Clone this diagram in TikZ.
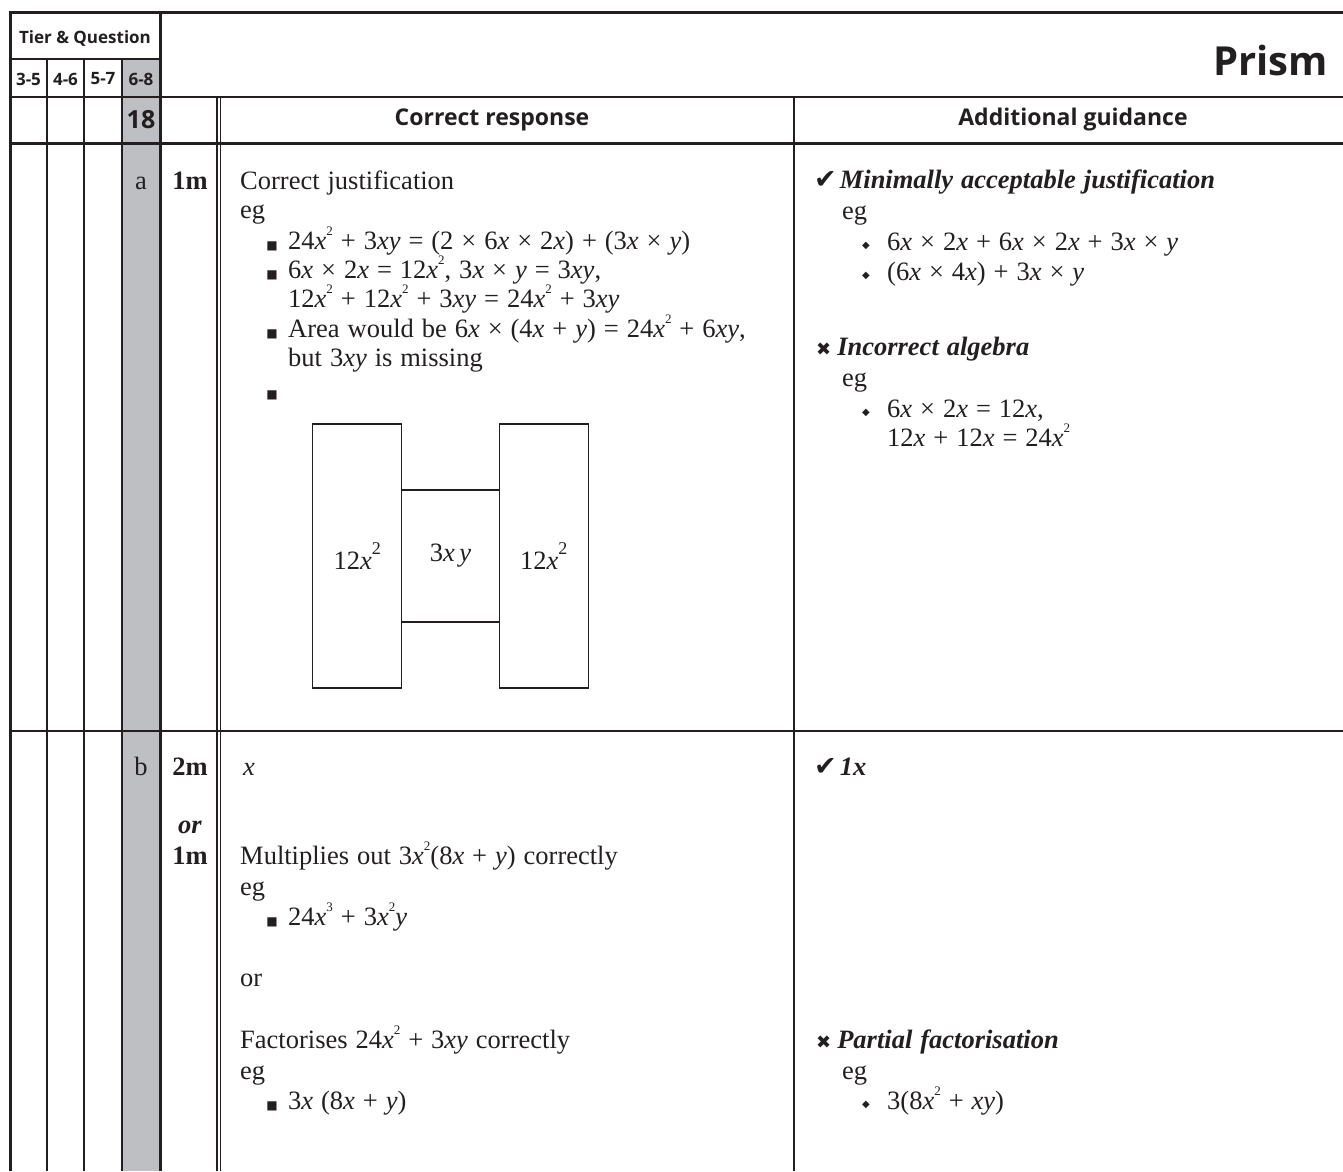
\documentclass[tikz,border=0pt]{standalone}
\usepackage{amsmath}
\usepackage{amssymb}
\usepackage{fontspec}
\usepackage{xcolor}
\setmainfont{Liberation Serif}
\newfontfamily\headfont{Open Sans}
\newfontfamily\symfont{DejaVu Sans}
\definecolor{rulecol}{RGB}{35,31,32}
\definecolor{tiergray}{RGB}{190,191,195}
\newcommand{\sqbul}{{\symfont\fontsize{12}{12}\selectfont ■}}
\newcommand{\dmbul}{\raisebox{2pt}{\symfont\fontsize{10}{10}\selectfont ◆}}
\newcommand{\tickmark}{{\symfont\fontsize{27}{27}\selectfont ✔}}
\newcommand{\crossmark}{{\symfont\fontsize{18}{18}\selectfont ✖}}
\newcommand{\iv}[1]{\textit{#1}}
\newcommand{\pw}[1]{\raisebox{0.5em}{\fontsize{13}{13}\selectfont #1}}
\newcommand{\bpw}[1]{\raisebox{0.55em}{\fontsize{18}{18}\selectfont #1}}
\newcommand{\bodyfont}{\fontsize{26.5}{30}\selectfont\spaceskip 0.3em\relax}
\tikzset{
  body/.style={anchor=base west, text=rulecol, font=\bodyfont},
  markcol/.style={anchor=base, text=rulecol, font=\fontsize{26.5}{30}\selectfont},
  hdr/.style={text=rulecol, font=\headfont\bfseries\fontsize{23}{27}\selectfont},
  tierhdr/.style={text=rulecol, font=\headfont\bfseries\fontsize{17}{20}\selectfont},
  bul/.style={anchor=base, text=rulecol},
  thickrule/.style={rulecol, line width=3pt},
  thinrule/.style={rulecol, line width=1.3pt},
  areabox/.style={draw=rulecol, line width=1.5pt, text=rulecol, font=\fontsize{26.5}{30}\selectfont}
}
\begin{document}
\begin{tikzpicture}[x=1pt,y=-1pt]
\tikzstyle{every node}+=[inner sep=0pt]
\useasboundingbox (0,0) rectangle (1343,1171);
\fill [tiergray] (122,59) rectangle (160,1171);
\draw [thickrule] (8.5,12) -- (1343,12);
\draw [thickrule] (10,12) -- (10,1171);
\draw [thickrule] (160,12) -- (160,1171);
\draw [thickrule] (10,143) -- (1343,143);
\draw [thinrule] (10,59) -- (160,59);
\draw [thinrule] (10,97) -- (1343,97);
\draw [thinrule] (10,731) -- (1343,731);
\draw [thinrule] (47,59) -- (47,1171);
\draw [thinrule] (84,59) -- (84,1171);
\draw [thinrule] (122,59) -- (122,1171);
\draw [thinrule] (217,97) -- (217,1171);
\draw [thinrule] (220.5,97) -- (220.5,1171);
\draw [thinrule] (794,97) -- (794,1171);
\node [tierhdr] (tier) at (85,38) {Tier \& Question};
\node [tierhdr] (t35) at (28.5,79) {3-5};
\node [tierhdr] (t46) at (65.5,79) {4-6};
\node [tierhdr] (t57) at (103,79) {5-7};
\node [tierhdr] (t68) at (141,79) {6-8};
\node [hdr, anchor=east, font=\headfont\bfseries\fontsize{40}{44}\selectfont] (title) at (1328,60) {Prism};
\node [hdr, font=\headfont\bfseries\fontsize{25}{28}\selectfont] (qnum) at (141,120) {18};
\node [hdr] (colresp) at (492,120) {Correct response};
\node [hdr] (colguid) at (1073,120) {Additional guidance};
\node [markcol] (parta) at (141,189) {a};
\node [markcol, font=\bfseries\fontsize{26.5}{30}\selectfont] (marka) at (190,189) {1m};
\node [markcol] (partb) at (141,775) {b};
\node [markcol, font=\bfseries\fontsize{26.5}{30}\selectfont] (markb) at (190,775) {2m};
\node [markcol, font=\bfseries\itshape\fontsize{26.5}{30}\selectfont] (markor) at (190,833) {or};
\node [markcol, font=\bfseries\fontsize{26.5}{30}\selectfont] (markc) at (190,864) {1m};
\node [body] (resa1) at (240,189) {Correct justification};
\node [body] (resa2) at (240,218) {eg};
\node [bul] (bula1) at (272,249) {\sqbul};
\node [body] (resa3) at (288,249) {24\iv{x}\pw{2} + 3\iv{xy} = (2 × 6\iv{x} × 2\iv{x}) + (3\iv{x} × \iv{y})};
\node [bul] (bula2) at (272,278) {\sqbul};
\node [body] (resa4) at (288,278) {6\iv{x} × 2\iv{x} = 12\iv{x}\pw{2}, 3\iv{x} × \iv{y} = 3\iv{xy},};
\node [body] (resa5) at (288,307) {12\iv{x}\pw{2} + 12\iv{x}\pw{2} + 3\iv{xy} = 24\iv{x}\pw{2} + 3\iv{xy}};
\node [bul] (bula3) at (272,337) {\sqbul};
\node [body] (resa6) at (288,337) {Area would be 6\iv{x} × (4\iv{x} + \iv{y}) = 24\iv{x}\pw{2} + 6\iv{xy},};
\node [body] (resa7) at (288,366) {but 3\iv{xy} is missing};
\node [bul] (bula4) at (272,398) {\sqbul};
\node [areabox, minimum width=89pt, minimum height=264pt] (boxl) at (357.2,556) {12\iv{x}\bpw{2}};
\node [areabox, minimum width=97.6pt, minimum height=132pt] (boxm) at (450.5,556) {3\iv{x\,y}};
\node [areabox, minimum width=89pt, minimum height=264pt] (boxr) at (543.8,556) {12\iv{x}\bpw{2}};
\node [body] (guia1) at (814,188) {\tickmark\hspace{3pt}{\bfseries\itshape Minimally acceptable justification}};
\node [body] (guia2) at (842,219) {eg};
\node [bul] (dma1) at (866,250) {\dmbul};
\node [body] (guia3) at (887,250) {6\iv{x} × 2\iv{x} + 6\iv{x} × 2\iv{x} + 3\iv{x} × \iv{y}};
\node [bul] (dma2) at (866,280) {\dmbul};
\node [body] (guia4) at (887,280) {(6\iv{x} × 4\iv{x}) + 3\iv{x} × \iv{y}};
\node [body] (guia5) at (816,355) {\crossmark\hspace{6pt}{\bfseries\itshape Incorrect algebra}};
\node [body] (guia6) at (842,386) {eg};
\node [bul] (dma3) at (866,417) {\dmbul};
\node [body] (guia7) at (887,417) {6\iv{x} × 2\iv{x} = 12\iv{x},};
\node [body] (guia8) at (887,446) {12\iv{x} + 12\iv{x} = 24\iv{x}\pw{2}};
\node [body] (resb1) at (243,775) {\iv{x}};
\node [body] (resb2) at (240,864) {Multiplies out 3\iv{x}\pw{2}(8\iv{x} + \iv{y}) correctly};
\node [body] (resb3) at (240,895) {eg};
\node [bul] (bulb1) at (272,925) {\sqbul};
\node [body] (resb4) at (288,925) {24\iv{x}\pw{3} + 3\iv{x}\pw{2}\iv{y}};
\node [body] (resb5) at (240,986) {or};
\node [body] (resb6) at (240,1048) {Factorises 24\iv{x}\pw{2} + 3\iv{xy} correctly};
\node [body] (resb7) at (240,1079) {eg};
\node [bul] (bulb2) at (272,1109) {\sqbul};
\node [body] (resb8) at (288,1109) {3\iv{x} (8\iv{x} + \iv{y})};
\node [body] (guib1) at (814,775) {\tickmark\hspace{3pt}{\bfseries\itshape 1x}};
\node [body] (guib2) at (816,1048) {\crossmark\hspace{6pt}{\bfseries\itshape Partial factorisation}};
\node [body] (guib3) at (842,1079) {eg};
\node [bul] (dmb1) at (866,1109) {\dmbul};
\node [body] (guib4) at (887,1109) {3(8\iv{x}\pw{2} + \iv{xy})};
\end{tikzpicture}
\end{document}
